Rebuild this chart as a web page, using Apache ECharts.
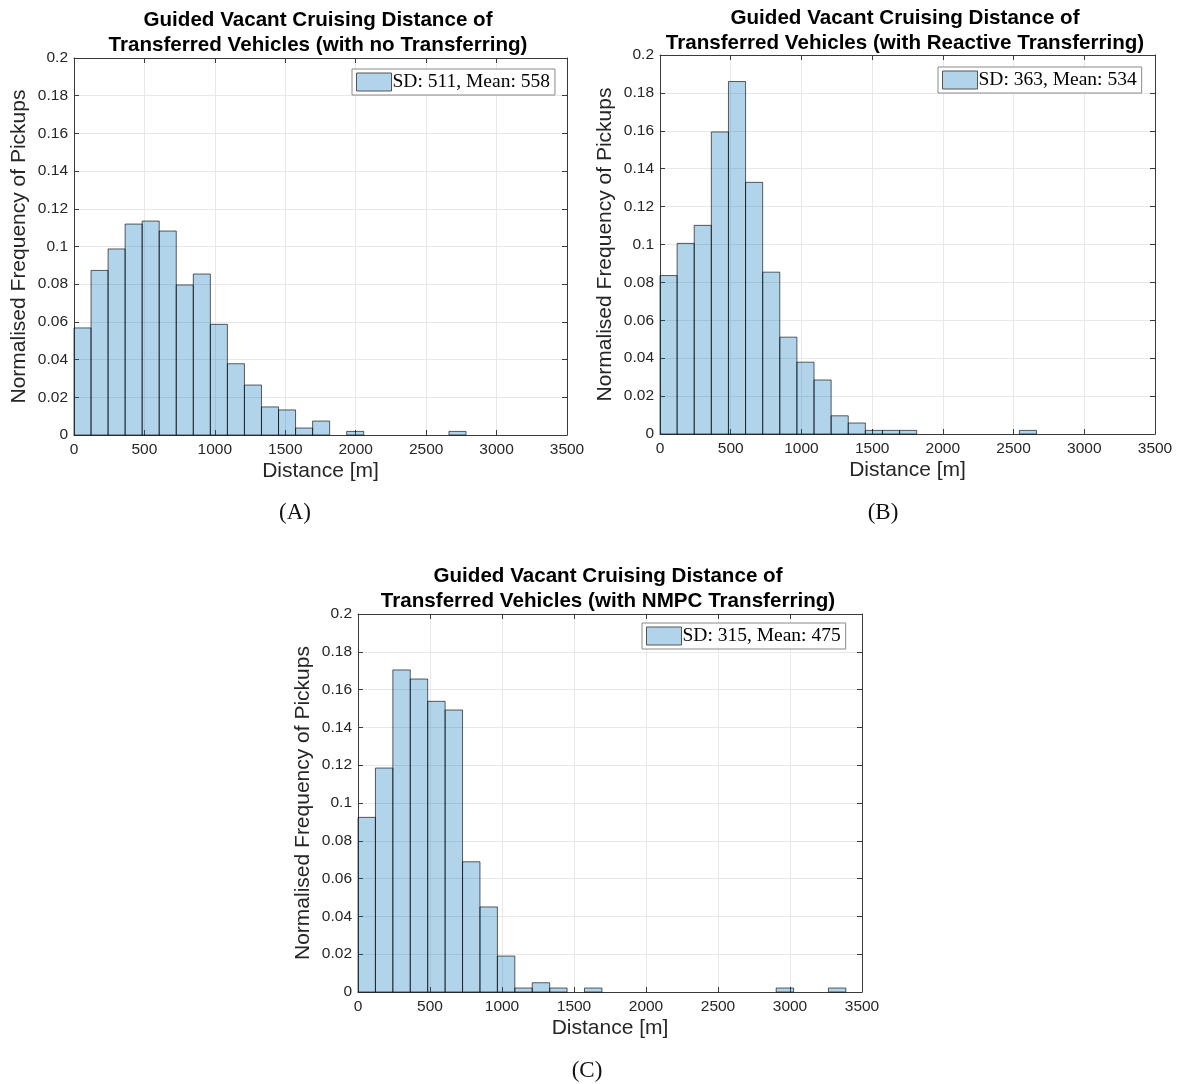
<!DOCTYPE html>
<html>
<head>
<meta charset="utf-8">
<script src="https://cdn.jsdelivr.net/npm/echarts@6/dist/echarts.min.js"></script>
<style>html,body{margin:0;padding:0;background:#fff;}#c{width:1181px;height:1084px;}</style>
</head>
<body>
<div id="c"></div>
<script>
// ---- data ----
const binWidth = 121; // metres per histogram bin
const xTicks = [0, 500, 1000, 1500, 2000, 2500, 3000, 3500];
const titlesA = 'Guided Vacant Cruising Distance of\nTransferred Vehicles (with no Transferring)';
const titlesB = 'Guided Vacant Cruising Distance of\nTransferred Vehicles (with Reactive Transferring)';
const titlesC = 'Guided Vacant Cruising Distance of\nTransferred Vehicles (with NMPC Transferring)';
const legendA = 'SD: 511, Mean: 558';
const legendB = 'SD: 363, Mean: 534';
const legendC = 'SD: 315, Mean: 475';
const subLabels = ['(A)', '(B)', '(C)'];
const freqA = [0.0568,0.0873,0.0987,0.1119,0.1135,0.1082,0.0796,0.0854,0.0587,0.0378,0.0265,0.0149,0.0133,0.0037,0.0074,0,0.0019,0,0,0,0,0,0.0019];
const freqB = [0.0836,0.1006,0.1101,0.1594,0.1860,0.1328,0.0854,0.0511,0.0379,0.0285,0.0096,0.0058,0.0019,0.0019,0.0019,0,0,0,0,0,0,0.0019];
const freqC = [0.0924,0.1185,0.1704,0.1656,0.1538,0.1492,0.0689,0.0450,0.0190,0.0021,0.0049,0.0021,0,0.0021,0,0,0,0,0,0,0,0,0,0,0.0021,0,0,0.0021];

// ---- layout ----
const grids = [
  {left: 74, top: 58, width: 493, height: 377},
  {left: 660, top: 55, width: 495, height: 379},
  {left: 358, top: 614, width: 504, height: 378}
];
const titleText = [titlesA, titlesB, titlesC];
const titlePos = [{x: 318, y: 8}, {x: 905, y: 6}, {x: 608, y: 564}];
const legendNames = [legendA, legendB, legendC];
const legendPos = [{left: 352, top: 69}, {left: 938, top: 67}, {left: 642, top: 623}];
const subPos = [{x: 295, y: 513}, {x: 883, y: 513}, {x: 587, y: 1071}];
const freqs = [freqA, freqB, freqC];

const axisCol = '#3a3a3a';
const textCol = '#262626';
const fill = 'rgba(0,114,189,0.3)';
const stroke = 'rgba(0,0,0,0.62)';
const xMin = xTicks[0], xMax = xTicks[xTicks.length - 1];

function hist(f) {
  const d = [];
  f.forEach((v, i) => { if (v > 0) d.push([i * binWidth, (i + 1) * binWidth, v]); });
  return d;
}

const noTick = {show: false};
const tickOnly = {show: true, inside: false, length: 5, lineStyle: {color: axisCol}};
const xAxis = [], yAxis = [], series = [], title = [], legend = [], graphic = [];
grids.forEach((g, k) => {
  // main bottom axis
  xAxis.push({
    type: 'value', gridIndex: k, min: xMin, max: xMax, interval: 500, position: 'bottom',
    name: 'Distance [m]', nameLocation: 'middle', nameGap: 26,
    nameTextStyle: {fontFamily: 'Liberation Sans', fontSize: 21, color: textCol},
    axisLine: {show: true, onZero: false, lineStyle: {color: axisCol}},
    axisTick: noTick,
    axisLabel: {fontFamily: 'Liberation Sans', fontSize: 15.5, color: textCol, margin: 7, formatter: v => String(v)},
    splitLine: {show: true, lineStyle: {color: '#e8e8e8'}}
  });
  // top box line
  xAxis.push({
    type: 'value', gridIndex: k, min: xMin, max: xMax, interval: 500, position: 'top',
    axisLine: {show: true, onZero: false, lineStyle: {color: axisCol}},
    axisTick: noTick, axisLabel: {show: false}, splitLine: {show: false}
  });
  // inward ticks bottom / top
  xAxis.push({
    type: 'value', gridIndex: k, min: xMin, max: xMax, interval: 500, position: 'bottom', offset: -5,
    axisLine: {show: false, onZero: false}, axisTick: tickOnly, axisLabel: {show: false}, splitLine: {show: false}
  });
  xAxis.push({
    type: 'value', gridIndex: k, min: xMin, max: xMax, interval: 500, position: 'top', offset: -5,
    axisLine: {show: false, onZero: false}, axisTick: tickOnly, axisLabel: {show: false}, splitLine: {show: false}
  });
  yAxis.push({
    type: 'value', gridIndex: k, min: 0, max: 0.2, interval: 0.02, position: 'left',
    name: 'Normalised Frequency of Pickups', nameLocation: 'middle', nameGap: 44,
    nameTextStyle: {fontFamily: 'Liberation Sans', fontSize: 21, color: textCol},
    axisLine: {show: true, onZero: false, lineStyle: {color: axisCol}},
    axisTick: noTick,
    axisLabel: {fontFamily: 'Liberation Sans', fontSize: 15.5, color: textCol, margin: 6,
      formatter: v => String(+v.toFixed(2))},
    splitLine: {show: true, lineStyle: {color: '#e8e8e8'}}
  });
  yAxis.push({
    type: 'value', gridIndex: k, min: 0, max: 0.2, interval: 0.02, position: 'right',
    axisLine: {show: true, onZero: false, lineStyle: {color: axisCol}},
    axisTick: noTick, axisLabel: {show: false}, splitLine: {show: false}
  });
  yAxis.push({
    type: 'value', gridIndex: k, min: 0, max: 0.2, interval: 0.02, position: 'left', offset: -5,
    axisLine: {show: false, onZero: false}, axisTick: tickOnly, axisLabel: {show: false}, splitLine: {show: false}
  });
  yAxis.push({
    type: 'value', gridIndex: k, min: 0, max: 0.2, interval: 0.02, position: 'right', offset: -5,
    axisLine: {show: false, onZero: false}, axisTick: tickOnly, axisLabel: {show: false}, splitLine: {show: false}
  });
  series.push({
    type: 'custom', name: legendNames[k], xAxisIndex: 4 * k, yAxisIndex: 4 * k,
    itemStyle: {color: fill, borderColor: stroke, borderWidth: 1},
    renderItem: function (params, api) {
      const p0 = api.coord([api.value(0), api.value(2)]);
      const p1 = api.coord([api.value(1), 0]);
      return {type: 'rect', shape: {x: p0[0], y: p0[1], width: p1[0] - p0[0], height: p1[1] - p0[1]},
        style: {fill: fill, stroke: stroke, lineWidth: 1}};
    },
    encode: {x: [0, 1], y: 2},
    data: hist(freqs[k])
  });
  title.push({
    text: titleText[k], left: titlePos[k].x, top: titlePos[k].y, textAlign: 'center', padding: 0,
    textStyle: {fontFamily: 'Liberation Sans', fontWeight: 'bold', fontSize: 20.6, color: '#000', lineHeight: 25}
  });
  legend.push({
    data: [{name: legendNames[k], icon: 'rect', itemStyle: {color: fill, borderColor: '#555', borderWidth: 1}}],
    left: legendPos[k].left, top: legendPos[k].top, orient: 'horizontal',
    itemWidth: 35, itemHeight: 18, itemGap: 0, padding: [3, 5, 3, 4],
    backgroundColor: '#fff', borderColor: '#8a8a8a', borderWidth: 1, borderRadius: 0,
    selectedMode: false,
    textStyle: {fontFamily: 'Liberation Serif', fontSize: 19.5, color: '#000', padding: [0, 0, 0, -4]}
  });
  graphic.push({
    type: 'text', x: subPos[k].x, y: subPos[k].y,
    style: {text: subLabels[k], fontFamily: 'Liberation Serif', fontSize: 23, fill: '#111',
      textAlign: 'center', textVerticalAlign: 'middle'}
  });
});

const chart = echarts.init(document.getElementById('c'), null, {renderer: 'canvas'});
chart.setOption({
  animation: false,
  backgroundColor: '#fff',
  grid: grids,
  xAxis: xAxis, yAxis: yAxis, series: series, title: title, legend: legend, graphic: graphic
});
</script>
</body>
</html>
